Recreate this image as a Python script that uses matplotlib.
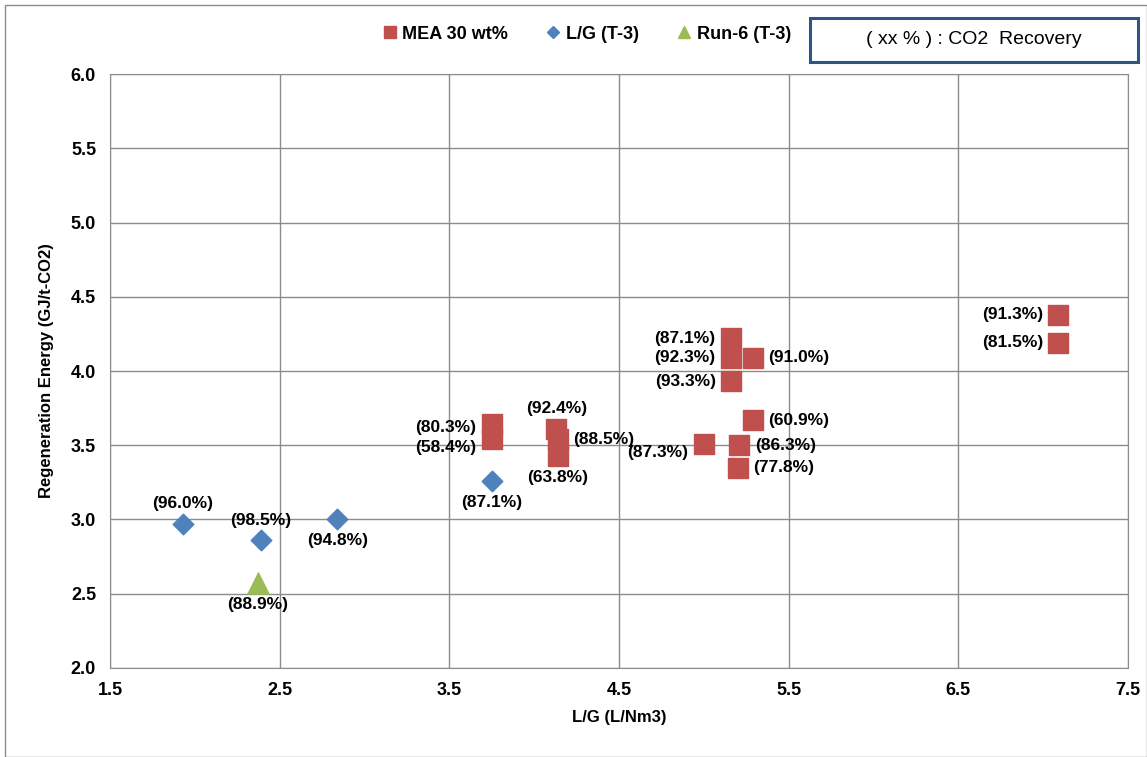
import matplotlib.pyplot as plt
from matplotlib.patches import Rectangle
from matplotlib.lines import Line2D

plt.rcParams['font.family'] = ['Liberation Sans', 'DejaVu Sans']

# MEA 30 wt%
mea_x = [3.75, 3.75, 4.13, 4.14, 4.14, 5.16, 5.16, 5.29, 5.16, 5.29, 5.00, 5.21, 5.20, 7.09, 7.09]
mea_y = [3.64, 3.54, 3.61, 3.54, 3.43, 4.22, 4.09, 4.09, 3.93, 3.67, 3.51, 3.50, 3.35, 4.38, 4.19]
mea_lab = ['(80.3%)', '(58.4%)', '(92.4%)', '(88.5%)', '(63.8%)', '(87.1%)', '(92.3%)', '(91.0%)',
           '(93.3%)', '(60.9%)', '(87.3%)', '(86.3%)', '(77.8%)', '(91.3%)', '(81.5%)']
mea_pos = ['left_up', 'left_dn', 'above', 'right', 'below', 'left', 'left', 'right',
           'left', 'right', 'left_dn', 'right', 'right', 'left', 'left']

# L/G (T-3)
lg_x = [1.93, 2.39, 2.84, 3.75]
lg_y = [2.97, 2.86, 3.00, 3.26]
lg_lab = ['(96.0%)', '(98.5%)', '(94.8%)', '(87.1%)']
lg_pos = ['above', 'above', 'below', 'below']

# Run-6 (T-3)
run_x = [2.37]
run_y = [2.57]
run_lab = ['(88.9%)']
run_pos = ['below']

red = '#C0504D'
blue = '#4F81BD'
green = '#9BBB59'

fig = plt.figure(figsize=(11.47, 7.57), dpi=100)
ax = fig.add_axes([0.0959, 0.1176, 0.8875, 0.7846])

ax.scatter(mea_x, mea_y, marker='s', s=190, color=red, zorder=3)
ax.scatter(lg_x, lg_y, marker='D', s=110, color=blue, zorder=3)
ax.scatter(run_x, run_y, marker='^', s=230, color=green, zorder=3)

offsets = {'left': (-11, 0, 'right', 'center'),
           'left_up': (-11, -2, 'right', 'center'),
           'left_dn': (-11, -6, 'right', 'center'),
           'right': (11, 0, 'left', 'center'),
           'above': (0, 9, 'center', 'bottom'),
           'below': (0, -10, 'center', 'top')}

for xs, ys, labs, poss in [(mea_x, mea_y, mea_lab, mea_pos),
                           (lg_x, lg_y, lg_lab, lg_pos),
                           (run_x, run_y, run_lab, run_pos)]:
    for x, y, t, p in zip(xs, ys, labs, poss):
        dx, dy, ha, va = offsets[p]
        ax.annotate(t, (x, y), xytext=(dx, dy), textcoords='offset points',
                    ha=ha, va=va, fontsize=12.5, fontweight='bold', zorder=4)

ax.set_xlim(1.5, 7.5)
ax.set_ylim(2.0, 6.0)
ax.set_xticks([1.5, 2.5, 3.5, 4.5, 5.5, 6.5, 7.5])
ax.set_yticks([2.0, 2.5, 3.0, 3.5, 4.0, 4.5, 5.0, 5.5, 6.0])
ax.xaxis.set_major_formatter(plt.FormatStrFormatter('%.1f'))
ax.yaxis.set_major_formatter(plt.FormatStrFormatter('%.1f'))
ax.grid(True, color='#8C8C8C', linewidth=1)
ax.set_axisbelow(True)
for s in ax.spines.values():
    s.set_color('#8C8C8C')
ax.tick_params(length=0, labelsize=13, pad=10)
for lbl in ax.get_xticklabels() + ax.get_yticklabels():
    lbl.set_fontweight('bold')

ax.set_xlabel('L/G (L/Nm3)', fontsize=12, fontweight='bold', labelpad=8)
ax.set_ylabel('Regeneration Energy (GJ/t-CO2)', fontsize=12, fontweight='bold', labelpad=12)

handles = [Line2D([], [], marker='s', color=red, linestyle='none', markersize=9),
           Line2D([], [], marker='D', color=blue, linestyle='none', markersize=6),
           Line2D([], [], marker='^', color=green, linestyle='none', markersize=9)]
leg = fig.legend(handles, ['MEA 30 wt%', 'L/G (T-3)', 'Run-6 (T-3)'], ncol=3, frameon=False,
                 loc='center', bbox_to_anchor=(0.51, 0.955), handletextpad=0.1,
                 handlelength=1.2, columnspacing=1.9, prop={'weight': 'bold', 'size': 13})

fig.patches.append(Rectangle((810 / 1147, 1 - 62 / 757), 328 / 1147, 44 / 757,
                             transform=fig.transFigure, fill=False,
                             edgecolor='#2F5486', linewidth=2.2))
fig.text(974 / 1147, 1 - 40 / 757, '( xx % ) : CO2  Recovery', ha='center', va='center', fontsize=14)

fig.patches.append(Rectangle((5 / 1147, 0), 1 - 5 / 1147, 1 - 5 / 757,
                             transform=fig.transFigure, fill=False,
                             edgecolor='#8C8C8C', linewidth=1))

fig.savefig('out.png', dpi=100)
